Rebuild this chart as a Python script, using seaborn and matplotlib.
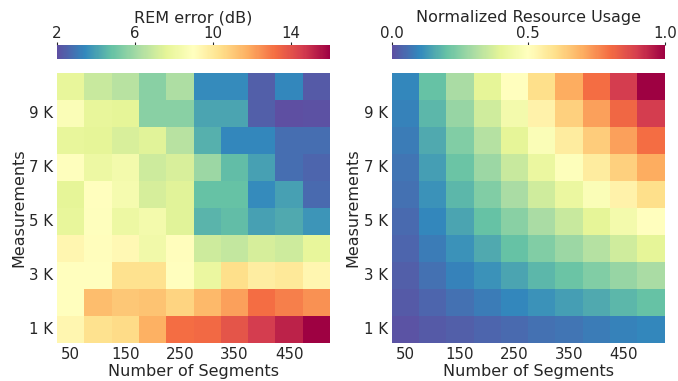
import numpy as np
import pandas as pd
import matplotlib
matplotlib.use('Agg')
import matplotlib.pyplot as plt
import seaborn as sns

# Axes categories
segments = [50, 100, 150, 200, 250, 300, 350, 400, 450, 500]
measurements = ['1 K', '2 K', '3 K', '4 K', '5 K', '6 K', '7 K', '8 K', '9 K', '10 K']

# REM error (dB), rows from 1 K (bottom) up to 10 K (top)
rem_error = [
    [9.4, 10.3, 10.5, 11.7, 13.2, 13.3, 13.9, 14.6, 15.2, 16.0],
    [9.0, 11.4, 11.1, 11.2, 10.7, 11.5, 12.1, 13.2, 12.8, 12.4],
    [9.0, 9.0, 10.3, 10.3, 9.0, 7.9, 10.4, 9.8, 10.0, 9.4],
    [9.4, 9.1, 9.3, 8.2, 9.1, 7.0, 6.8, 7.2, 7.0, 7.7],
    [7.7, 8.9, 8.0, 8.3, 7.5, 4.5, 4.7, 4.0, 4.2, 3.7],
    [7.6, 9.0, 8.4, 7.2, 7.5, 4.8, 4.8, 3.5, 4.0, 2.7],
    [8.9, 8.0, 8.3, 7.0, 7.3, 5.9, 4.7, 4.0, 2.8, 2.6],
    [7.7, 7.6, 7.3, 7.5, 6.5, 4.4, 3.4, 3.4, 2.8, 2.8],
    [8.7, 7.7, 7.6, 5.5, 5.5, 4.1, 4.1, 2.4, 2.0, 2.1],
    [7.7, 6.9, 6.5, 5.5, 6.3, 3.5, 3.5, 2.4, 3.4, 2.3],
]

# Normalized resource usage, rows from 1 K (bottom) up to 10 K (top)
resource_usage = [
    [0.01, 0.02, 0.03, 0.04, 0.05, 0.06, 0.07, 0.08, 0.09, 0.10],
    [0.02, 0.04, 0.06, 0.08, 0.10, 0.12, 0.14, 0.16, 0.18, 0.20],
    [0.03, 0.06, 0.09, 0.12, 0.15, 0.18, 0.21, 0.24, 0.27, 0.30],
    [0.04, 0.08, 0.12, 0.16, 0.20, 0.24, 0.28, 0.32, 0.36, 0.40],
    [0.05, 0.10, 0.15, 0.20, 0.25, 0.30, 0.35, 0.40, 0.45, 0.50],
    [0.06, 0.12, 0.18, 0.24, 0.30, 0.36, 0.42, 0.48, 0.54, 0.60],
    [0.07, 0.14, 0.21, 0.28, 0.35, 0.42, 0.49, 0.56, 0.63, 0.70],
    [0.08, 0.16, 0.24, 0.32, 0.40, 0.48, 0.56, 0.64, 0.72, 0.80],
    [0.09, 0.18, 0.27, 0.36, 0.45, 0.54, 0.63, 0.72, 0.81, 0.90],
    [0.10, 0.20, 0.30, 0.40, 0.50, 0.60, 0.70, 0.80, 0.90, 1.00],
]

sns.set_theme(style='white', rc={'font.size': 11.5, 'axes.labelsize': 11.5,
                                 'xtick.labelsize': 10.8, 'ytick.labelsize': 10.8})

fig = plt.figure(figsize=(6.78, 3.81), dpi=100)
ax1 = fig.add_axes([0.0841, 0.0997, 0.4027, 0.7095])
ax2 = fig.add_axes([0.5777, 0.0997, 0.4027, 0.7095])
cax1 = fig.add_axes([0.0841, 0.845, 0.4027, 0.036])
cax2 = fig.add_axes([0.5777, 0.845, 0.4027, 0.036])

panels = [
    (ax1, cax1, rem_error, 2, 16, [2, 6, 10, 14], 'REM error (dB)'),
    (ax2, cax2, resource_usage, 0, 1, [0.0, 0.5, 1.0], 'Normalized Resource Usage'),
]

for ax, cax, values, vmin, vmax, ticks, label in panels:
    df = pd.DataFrame(values, index=measurements, columns=segments)
    sns.heatmap(df, ax=ax, cmap='Spectral_r', vmin=vmin, vmax=vmax,
                cbar_ax=cax, cbar_kws={'orientation': 'horizontal', 'ticks': ticks},
                xticklabels=2, yticklabels=2)
    ax.invert_yaxis()
    ax.set_xlabel('Number of Segments', labelpad=1)
    ax.set_ylabel('Measurements', labelpad=2)
    ax.tick_params(axis='y', rotation=0, length=0, pad=3)
    ax.tick_params(axis='x', rotation=0, length=0, pad=3)

    cax.xaxis.set_ticks_position('top')
    cax.xaxis.set_label_position('top')
    cax.set_xlabel(label, labelpad=3)
    cax.tick_params(axis='x', length=2, width=0.8, pad=1)
    if vmax == 1:
        cax.set_xticklabels(['0.0', '0.5', '1.0'])

fig.savefig('out.png', dpi=100)
